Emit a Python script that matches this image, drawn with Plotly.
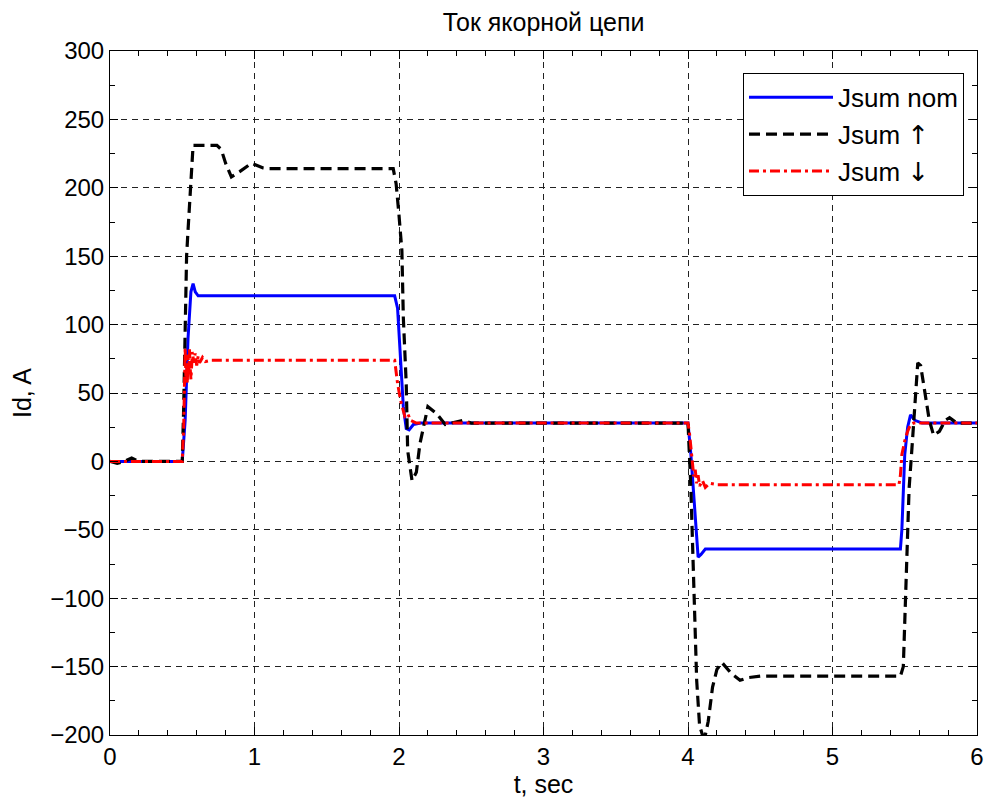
import plotly.graph_objects as go

# ---- data ----
t_nom = [0, 0.5, 0.52, 0.54, 0.56, 0.575, 0.59, 0.61, 0.63, 1.97, 1.99, 2.01, 2.03, 2.05, 2.07, 2.1, 2.15,
         4.0, 4.02, 4.04, 4.05, 4.06, 4.07, 4.09, 4.12, 4.15, 5.47, 5.48, 5.49, 5.5, 5.52, 5.54, 5.57, 5.62, 6.0]
j_nom = [0, 0, 30, 90, 124, 130, 124, 121, 121, 121, 112, 75, 40, 24, 23, 27, 28,
         28, 5, -25, -40, -55, -70, -68, -64, -64, -64, -50, -20, 5, 25, 34, 30, 28, 28]

t_up = [0, 0.05, 0.1, 0.15, 0.2, 0.5, 0.51, 0.53, 0.54, 0.56, 0.575, 0.74, 0.77, 0.8, 0.84, 0.9, 0.98, 1.06, 1.1,
        1.96, 1.98, 2.0, 2.02, 2.03, 2.05, 2.06, 2.09, 2.12, 2.145, 2.2, 2.26, 2.32, 2.44, 2.5,
        4.0, 4.02, 4.04, 4.06, 4.08, 4.1, 4.12, 4.14, 4.17, 4.2, 4.235, 4.3, 4.36, 4.42, 4.5,
        5.47, 5.49, 5.51, 5.53, 5.55, 5.57, 5.59, 5.61, 5.64, 5.67, 5.7, 5.74, 5.78, 5.81, 5.86, 6.0]
j_up = [0, -1.5, 0, 2.5, 0, 0, 40, 150, 169, 200, 231, 231, 228, 218, 208, 212, 218, 214.5, 214,
        214, 203, 180, 154, 105, 57, 8, -14, -8, 13, 40, 35, 27, 30, 28,
        28, -20, -90, -160, -193, -200, -200, -190, -165, -152, -147, -155, -160, -158, -157,
        -157, -150, -90, -20, 10, 45, 72, 70, 50, 30, 19, 22, 30, 32, 28, 28]

t_dn = [0, 0.5, 0.51, 0.515, 0.52, 0.525, 0.53, 0.535, 0.54, 0.545, 0.55, 0.555, 0.56, 0.57, 0.58, 0.59,
        0.6, 0.61, 0.62, 0.64, 0.66, 0.7, 0.75, 1.97, 1.99, 2.01, 2.03, 2.04, 2.06, 2.08, 2.12,
        4.0, 4.01, 4.02, 4.03, 4.04, 4.05, 4.06, 4.07, 4.08, 4.1, 4.12, 4.15, 4.2,
        5.46, 5.47, 5.48, 5.5, 5.52, 5.54, 5.56, 5.6, 6.0]
j_dn = [0, 0, 25, 50, 83, 62, 72, 57, 78, 66, 82, 68, 60, 80, 72, 79, 70, 77, 72, 76, 73, 74, 74,
        74, 57, 45, 37, 33, 35, 30, 28,
        28, 21, 10, -1, -11, -6, -16, -10, -18, -14, -19, -16, -17,
        -17, -10, 5, 15, 22, 27, 28, 28, 28]

names = ["Jsum nom",
         "Jsum <span style='font-family:DejaVu Sans'>↑</span>",
         "Jsum <span style='font-family:DejaVu Sans'>↓</span>"]

fig = go.Figure()
fig.add_trace(go.Scatter(x=t_nom, y=j_nom, mode="lines", name=names[0], legendgroup="a",
                         line=dict(color="#0000ff", width=3)))
fig.add_trace(go.Scatter(x=t_up, y=j_up, mode="lines", name=names[1], legendgroup="b",
                         line=dict(color="#000000", width=3.2, dash="11px,6px")))
fig.add_trace(go.Scatter(x=t_dn, y=j_dn, mode="lines", name=names[2], legendgroup="c",
                         line=dict(color="#ff0000", width=3, dash="10px,4px,3px,4px")))

font_fam = "Liberation Sans, Arial, DejaVu Sans, sans-serif"
axis_common = dict(showline=True, linecolor="black", linewidth=1, mirror="allticks",
                   ticks="inside", ticklen=8, tickcolor="black", automargin=False,
                   showgrid=True, gridcolor="#222222", gridwidth=1, griddash="6px,5px",
                   zeroline=False, tickfont=dict(size=24, color="black", family=font_fam))

fig.update_xaxes(range=[0, 6], dtick=1, tick0=0,
                 minor=dict(ticks="inside", dtick=0.2, ticklen=5, tickcolor="black", showgrid=False),
                 title=dict(text="t, sec", font=dict(size=25, color="black", family=font_fam), standoff=4),
                 **axis_common)
fig.update_yaxes(range=[-200, 300], dtick=50, tick0=0,
                 minor=dict(ticks="inside", dtick=25, ticklen=5, tickcolor="black", showgrid=False),
                 title=dict(text="Id, A", font=dict(size=25, color="black", family=font_fam), standoff=11),
                 **axis_common)

fig.update_layout(
    width=987, height=803,
    margin=dict(l=110, r=10, t=51, b=68),
    paper_bgcolor="white", plot_bgcolor="white",
    title=dict(text="Ток якорной цепи", x=0.5507, xanchor="center", y=0.972, yanchor="middle",
               font=dict(size=25, color="black", family=font_fam)),
    font=dict(family=font_fam, color="black"),
    legend=dict(x=0.985, y=0.968, xanchor="right", yanchor="top",
                bgcolor="white", bordercolor="black", borderwidth=1,
                font=dict(size=26, color="black", family=font_fam),
                itemwidth=84, tracegroupgap=0),
    showlegend=True,
)

fig.write_html("out.html")
